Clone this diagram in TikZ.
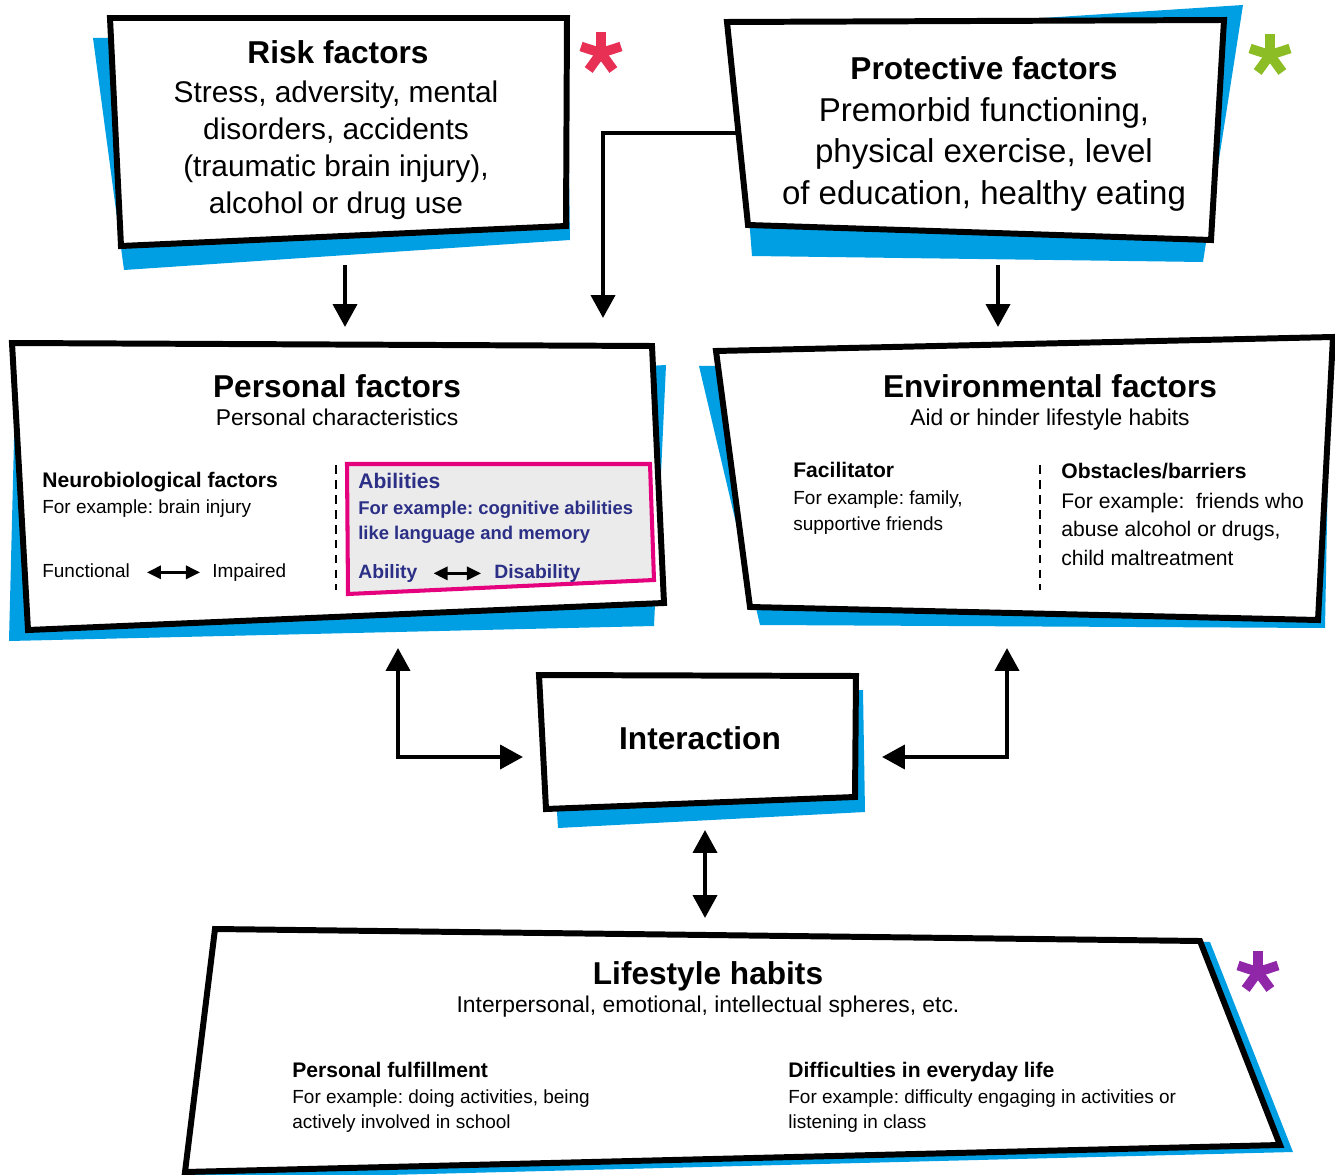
\documentclass[tikz,border=0pt]{standalone}
\usepackage{fontspec}
\setmainfont{Liberation Sans}
\usetikzlibrary{arrows.meta}
\definecolor{shadowblue}{HTML}{009FE3}
\definecolor{abilitypink}{HTML}{E5007D}
\definecolor{abilitygrey}{HTML}{EBEBEB}
\definecolor{abilitynavy}{HTML}{2B2F86}
\definecolor{riskred}{HTML}{E83055}
\definecolor{protectgreen}{HTML}{8CBD25}
\definecolor{habitpurple}{HTML}{9027A8}
\newcommand{\factorstar}[2]{\foreach \a in {-90,-18,-162,54,126} {\draw[#2, line width=5.5pt] #1 -- ++(\a:21);}}
\frenchspacing

\begin{document}
\begin{tikzpicture}[x=0.02cm, y=-0.02cm,
  shadow/.style={fill=shadowblue},
  frame/.style={draw, fill=white, line width=3.4pt, line join=miter},
  arrow/.style={-{Triangle[length=13pt, width=13.5pt]}, line width=2.5pt},
  twoway/.style={{Triangle[length=13pt, width=13.5pt]}-{Triangle[length=13pt, width=13.5pt]}, line width=2.5pt},
  smallarrow/.style={{Triangle[length=8pt, width=7.5pt]}-{Triangle[length=8pt, width=7.5pt]}, line width=1.6pt},
  divider/.style={dash pattern=on 5pt off 3.5pt, line width=1.1pt},
  title/.style={inner sep=0pt, anchor=base, font=\bfseries\fontsize{18}{22}\selectfont},
  subtitle/.style={inner sep=0pt, anchor=base, font=\fontsize{13}{16}\selectfont},
  heading/.style={inner sep=0pt, anchor=base west, font=\bfseries\fontsize{12}{15}\selectfont},
  example/.style={inner sep=0pt, anchor=north west, align=left, font=\fontsize{10.8}{14.6}\selectfont},
  bigtext/.style={inner sep=0pt, anchor=north, align=center}
]
\fill[white] (0,0) rectangle (1335,1175);
\useasboundingbox (0,0) rectangle (1335,1175);

\fill[shadow] (93,38) -- (567,38) -- (570,240) -- (124,270) -- cycle;
\draw[frame] (110,18) -- (567,18) -- (566,226) -- (121,246) -- cycle;
\node[title] (risktitle) at (338,64) {Risk factors};
\node[bigtext, font=\fontsize{17}{21}\selectfont] (riskbody) at (336,81) {Stress, adversity, mental\\disorders, accidents\\(traumatic brain injury),\\alcohol or drug use};
\factorstar{(601,53)}{riskred}

\fill[shadow] (735,38) -- (1243,5) -- (1203,262) -- (752,256) -- cycle;
\draw[frame] (727,22) -- (1224,20) -- (1211,240) -- (748,225) -- cycle;
\node[title] (protecttitle) at (984,80) {Protective factors};
\node[bigtext, font=\fontsize{18.8}{23.6}\selectfont] (protectbody) at (984,97) {Premorbid functioning,\\physical exercise, level\\of education, healthy eating};
\factorstar{(1270,55)}{protectgreen}

\fill[shadow] (15,400) -- (666,365) -- (654,626) -- (9,641) -- cycle;
\draw[frame] (12,343) -- (652,346) -- (664,603) -- (28,630) -- cycle;
\node[title] (personaltitle) at (337,398) {Personal factors};
\node[subtitle] (personalsub) at (337,426) {Personal characteristics};
\node[heading] (neuro) at (42,488) {Neurobiological factors};
\node[example, anchor=base west] (neurobody) at (42,514) {For example: brain injury};
\node[example, anchor=base west] (functional) at (42,577) {Functional};
\node[example, anchor=base west] (impaired) at (212,577) {Impaired};
\draw[smallarrow, shorten <=9.5pt, shorten >=6.8pt] (functional.mid east) -- (impaired.mid west);
\draw[divider] (336,465) -- (336,590);
\filldraw[draw=abilitypink, fill=abilitygrey, line width=2.3pt] (347,464) -- (650,464) -- (654,580) -- (348,594) -- cycle;
\node[heading, text=abilitynavy] (abilities) at (358,489) {Abilities};
\node[example, text=abilitynavy, font=\bfseries\fontsize{10.5}{14.2}\selectfont] (abilitiesbody) at (358,500.5) {For example: cognitive abilities\\like language and memory};
\node[heading, text=abilitynavy, font=\bfseries\fontsize{11}{14}\selectfont] (ability) at (358,578) {Ability};
\node[heading, text=abilitynavy, font=\bfseries\fontsize{11}{14}\selectfont] (disability) at (494,578) {Disability};
\draw[smallarrow, shorten <=9pt, shorten >=7.4pt] (ability.mid east) -- (disability.mid west);

\fill[shadow] (699,366) -- (1330,360) -- (1325,628) -- (760,625) -- cycle;
\draw[frame] (716,351) -- (1333,337) -- (1318,620) -- (750,607) -- cycle;
\node[title] (envtitle) at (1050,398) {Environmental factors};
\node[subtitle] (envsub) at (1050,426) {Aid or hinder lifestyle habits};
\node[heading] (facilitator) at (793,478) {Facilitator};
\node[example, font=\fontsize{10.8}{14.8}\selectfont] (facilitatorbody) at (793,490) {For example: family,\\supportive friends};
\draw[divider] (1040,465) -- (1040,590);
\node[heading] (obstacles) at (1061,479) {Obstacles/barriers};
\node[example, font=\fontsize{12}{16.4}\selectfont] (obstaclesbody) at (1061,492.5) {For example:~ friends who\\abuse alcohol or drugs,\\child maltreatment};

\fill[shadow] (550,700) -- (863,690) -- (865,812) -- (558,828) -- cycle;
\draw[frame] (539,675) -- (856,676) -- (855,797) -- (546,809) -- cycle;
\node[title] (interaction) at (700,749) {Interaction};

\fill[shadow] (230,935) -- (1210,942) -- (1293,1152) -- (190,1180) -- cycle;
\draw[frame] (215,929) -- (1200,941) -- (1280,1145) -- (185,1172) -- cycle;
\node[title] (habitstitle) at (708,984) {Lifestyle habits};
\node[subtitle] (habitssub) at (708,1012) {Interpersonal, emotional, intellectual spheres, etc.};
\node[heading] (fulfillment) at (292,1077) {Personal fulfillment};
\node[example] (fulfillmentbody) at (292,1089) {For example: doing activities, being\\actively involved in school};
\node[heading] (difficulties) at (788,1077) {Difficulties in everyday life};
\node[example] (difficultiesbody) at (788,1089) {For example: difficulty engaging in activities or\\listening in class};
\factorstar{(1258,972)}{habitpurple}

\coordinate (riskout) at (345,265);
\coordinate (personalin) at (345,327);
\coordinate (protectout) at (998,265);
\coordinate (envin) at (998,327);
\coordinate (protectleft) at (740,133);
\coordinate (personaltop) at (603,318);
\coordinate (personalout) at (398,648);
\coordinate (interleft) at (523,757);
\coordinate (envout) at (1007,648);
\coordinate (interright) at (882,757);
\coordinate (interbottom) at (705,830);
\coordinate (habitstop) at (705,918);

\draw[arrow] (riskout) -- (personalin);
\draw[arrow] (protectout) -- (envin);
\draw[arrow] (protectleft) -| (personaltop);
\draw[twoway] (personalout) |- (interleft);
\draw[twoway] (envout) |- (interright);
\draw[twoway] (interbottom) -- (habitstop);
\end{tikzpicture}
\end{document}
